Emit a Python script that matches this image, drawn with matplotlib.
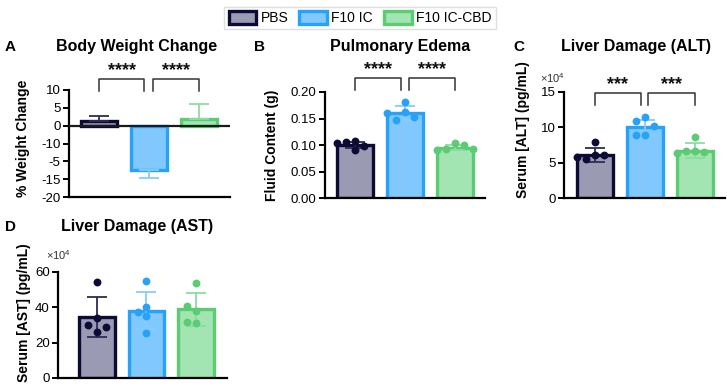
import numpy as np
import matplotlib
matplotlib.use('Agg')
import matplotlib.pyplot as plt
from matplotlib.patches import Patch

plt.rcParams['font.family'] = ['Liberation Sans', 'DejaVu Sans']
plt.rcParams['mathtext.default'] = 'regular'

groups = ['PBS', 'F10 IC', 'F10 IC-CBD']

# A - body weight change (%), mean and one-sided error
weight_mean = [1.4, -12.3, 1.9]
weight_err = [1.2, 2.3, 4.2]

# B - pulmonary edema, fluid content (g)
edema_pts = [[0.108, 0.105, 0.098, 0.103, 0.091],
             [0.182, 0.163, 0.148, 0.153, 0.161],
             [0.103, 0.092, 0.100, 0.091, 0.093]]
edema_mean = [0.100, 0.161, 0.095]
edema_err = [0.0065, 0.013, 0.005]

# C - ALT (x10^4 pg/mL)
alt_pts = [[7.9, 6.1, 5.5, 6.1, 5.8],
           [11.4, 10.9, 10.2, 8.9, 8.9],
           [8.6, 6.7, 6.6, 6.5, 6.3]]
alt_mean = [6.1, 10.0, 6.7]
alt_err = [1.0, 1.05, 1.05]

# D - AST (x10^4 pg/mL)
ast_pts = [[54.2, 33.8, 25.9, 30.0, 29.0],
           [54.9, 40.4, 35.1, 37.2, 25.7],
           [53.6, 37.9, 40.9, 31.0, 31.9]]
ast_mean = [34.3, 38.1, 38.9]
ast_err = [11.3, 10.5, 9.2]

edge_c = ['#0b0b36', '#27a2f6', '#5ccc74']
fill_c = ['#9a9ab2', '#80c8fd', '#a2e4b2']
err_c = ['#2c2c55', '#86cdfc', '#8edca2']

W, H = 727, 386
fig = plt.figure(figsize=(W / 100, H / 100), dpi=100)


def make_ax(x0, x1, ytop, ybot):
    ax = fig.add_axes([x0 / W, 1 - ybot / H, (x1 - x0) / W, (ybot - ytop) / H])
    for s in ['top', 'right']:
        ax.spines[s].set_visible(False)
    ax.spines['left'].set_linewidth(1.6)
    ax.spines['bottom'].set_linewidth(1.6)
    ax.set_xticks([])
    ax.tick_params(axis='y', length=4, width=1.4, labelsize=9.5, pad=2)
    return ax


def bars(ax, means, errs, one_sided=False):
    x = np.arange(len(means))
    ax.bar(x, means, width=0.72, color=fill_c, edgecolor=edge_c, linewidth=2.4, zorder=2)
    for i in x:
        if one_sided:
            yerr = [[0], [errs[i]]] if means[i] >= 0 else [[errs[i]], [0]]
        else:
            yerr = errs[i]
        ax.errorbar(i, means[i], yerr=yerr, fmt='none', ecolor=err_c[i],
                    elinewidth=1.3, capsize=7, capthick=1.3, zorder=3)


def swarm(ax, x0, ys, step=0.18, min_px=8.5):
    placed, xs = [], []
    for y in ys:
        for k in [0, -1, 1, -2, 2, -3, 3]:
            x = x0 + k * step
            p = ax.transData.transform((x, y))
            if all(np.hypot(*(p - q)) >= min_px for q in placed):
                break
        placed.append(p)
        xs.append(x)
    return xs


def points(ax, pts):
    for i, ys in enumerate(pts):
        xs = swarm(ax, i, ys)
        ax.scatter(xs, ys, s=32, color=edge_c[i], zorder=4, linewidths=0)


def bracket(ax, x0, x1, ylow, yhigh, stars):
    ax.plot([x0, x0, x1, x1], [ylow, yhigh, yhigh, ylow], color='#333333',
            lw=1.1, clip_on=False)
    ax.text((x0 + x1) / 2, yhigh, stars, ha='center', va='bottom',
            fontsize=13, fontweight='bold', color='#111111')


def titles(ax, letter, title, xl, xt, y, ylabel, ylab_x, ylab_y=0.5):
    fig.text(xl / W, 1 - y / H, letter, fontsize=11, fontweight='bold', va='center')
    fig.text(xt / W, 1 - y / H, title, fontsize=11.5, fontweight='bold',
             va='center', ha='center')
    ax.set_ylabel(ylabel, fontsize=10, fontweight='bold')
    ax.yaxis.set_label_coords(ylab_x, ylab_y)


# ---- A ----
axA = make_ax(69, 230, 90, 197)
axA.set_xlim(-0.6, 2.62)
axA.set_ylim(-20, 10)
bars(axA, weight_mean, weight_err, one_sided=True)
axA.axhline(0, color='#1a1a1a', lw=1.6, zorder=3)
axA.set_yticks([10, 5, 0, -5, -10, -15, -20])
axA.set_yticklabels(['10', '5', '0', '-10', '-5', '-15', '-20'])
bracket(axA, 0, 0.9, 9.6, 13.1, '****')
bracket(axA, 1.07, 2, 9.6, 13.1, '****')
titles(axA, 'A', 'Body Weight Change', 5, 137, 47, '% Weight Change', -0.24, 0.55)

# ---- B ----
axB = make_ax(325, 485, 92, 198)
axB.set_xlim(-0.6, 2.6)
axB.set_ylim(0, 0.20)
axB.set_yticks([0, 0.05, 0.10, 0.15, 0.20])
axB.set_yticklabels(['0.00', '0.05', '0.10', '0.15', '0.20'])
bars(axB, edema_mean, edema_err)
points(axB, edema_pts)
bracket(axB, 0, 0.92, 0.204, 0.227, '****')
bracket(axB, 1.08, 2, 0.204, 0.227, '****')
titles(axB, 'B', 'Pulmonary Edema', 254, 400, 47, 'Fluid Content (g)', -0.29)

# ---- C ----
axC = make_ax(564, 725, 92, 198)
axC.set_xlim(-0.61, 2.61)
axC.set_ylim(0, 15)
axC.set_yticks([0, 5, 10, 15])
bars(axC, alt_mean, alt_err)
points(axC, alt_pts)
bracket(axC, 0, 0.92, 13.2, 14.9, '***')
bracket(axC, 1.07, 2, 13.2, 14.9, '***')
axC.text(-0.15, 1.13, '×10$^{4}$', transform=axC.transAxes, fontsize=8,
         color='#333333', va='center')
titles(axC, 'C', 'Liver Damage (ALT)', 513, 636, 47, 'Serum [ALT] (pg/mL)', -0.21, 0.65)

# ---- D ----
axD = make_ax(58, 227, 272, 378)
axD.set_xlim(-0.79, 2.63)
axD.set_ylim(0, 60)
axD.set_yticks([0, 20, 40, 60])
bars(axD, ast_mean, ast_err)
points(axD, ast_pts)
axD.text(-0.07, 1.16, '×10$^{4}$', transform=axD.transAxes, fontsize=8,
         color='#333333', va='center')
titles(axD, 'D', 'Liver Damage (AST)', 5, 137, 227, 'Serum [AST] (pg/mL)', -0.16, 0.62)

# legend
handles = [Patch(facecolor=fill_c[i], edgecolor=edge_c[i], linewidth=2.4, label=g)
           for i, g in enumerate(groups)]
fig.legend(handles=handles, loc='upper center', bbox_to_anchor=(360 / W, 1.0),
           ncol=3, fontsize=10, frameon=True, fancybox=False, edgecolor='#d8d8d8',
           handlelength=2.0, handleheight=1.0, handletextpad=0.3,
           columnspacing=0.8, borderpad=0.3)

fig.savefig('out.png', dpi=100)
